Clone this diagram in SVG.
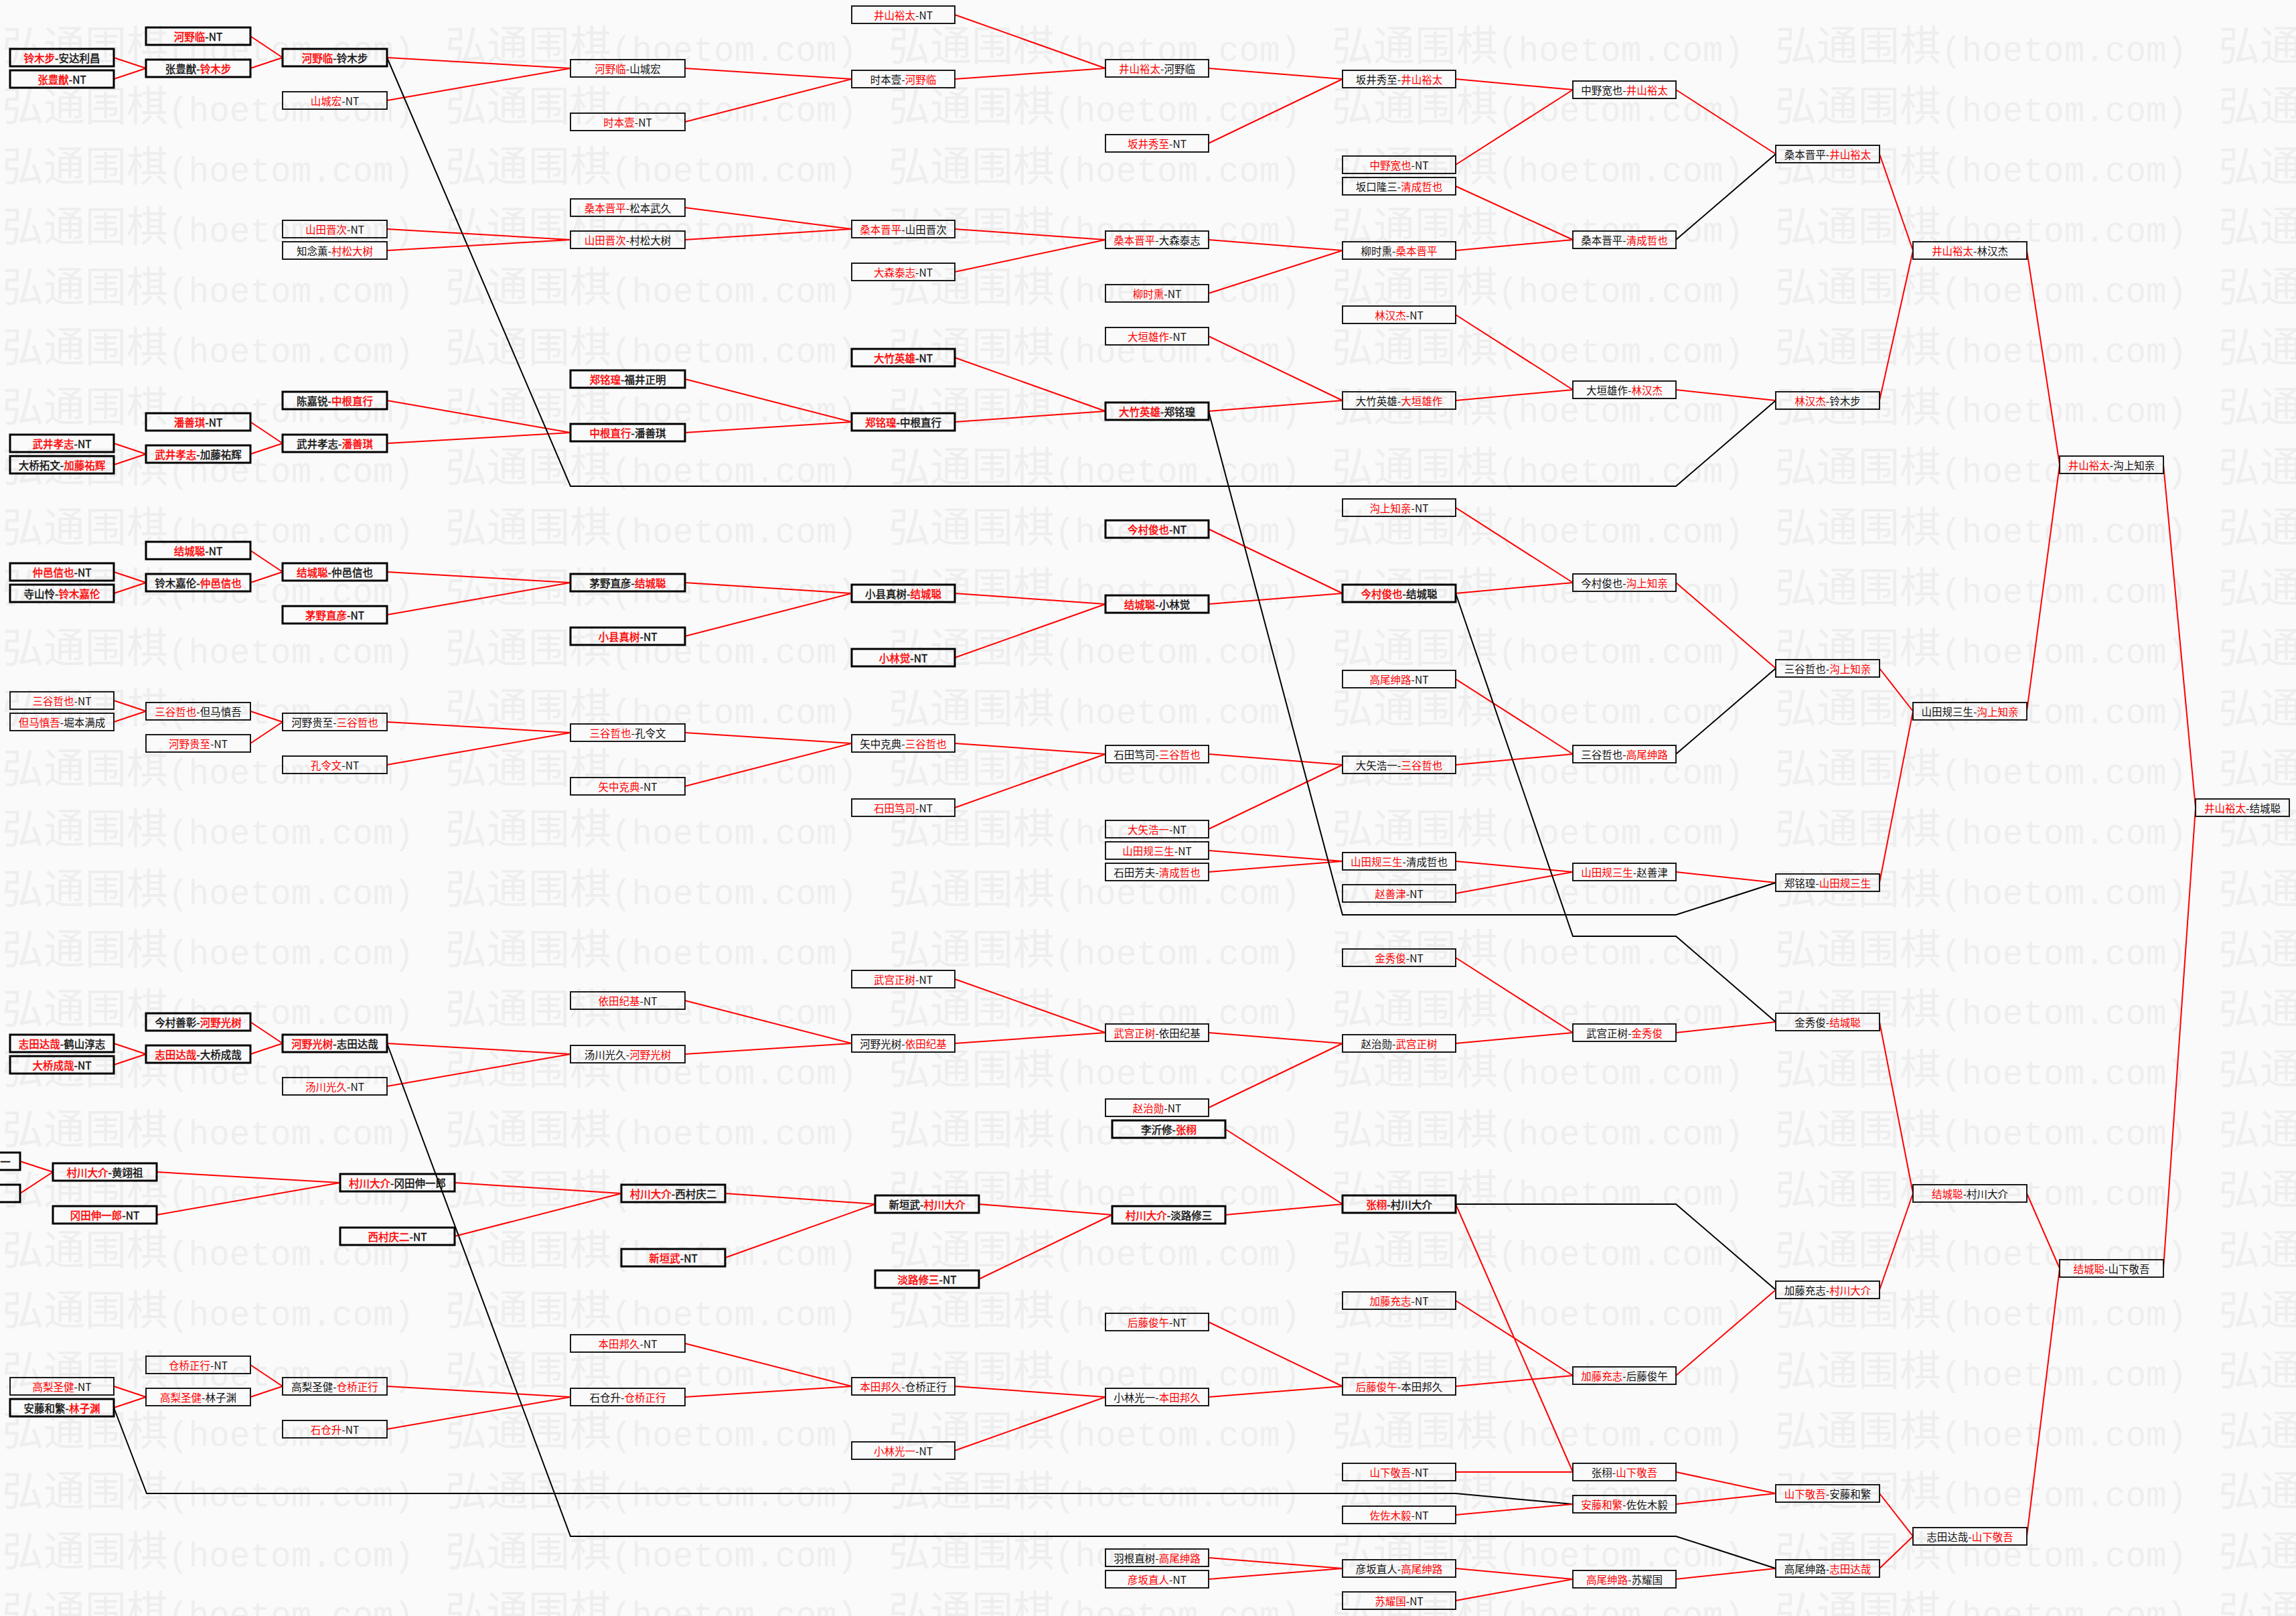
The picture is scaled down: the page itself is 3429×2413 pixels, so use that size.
<svg xmlns="http://www.w3.org/2000/svg" xmlns:xlink="http://www.w3.org/1999/xlink" width="3429" height="2413" viewBox="0 0 3429 2413">
<style>
.wm{font-family:"Noto Sans CJK SC","Noto Sans CJK JP",sans-serif;font-size:62px;fill:#eeeeee}
.wm .l{font-family:"Liberation Mono",monospace;font-size:51px}
.n rect{fill:none;stroke:#1a1a1a;stroke-width:2}
.n.b rect{stroke-width:3;stroke:#000}
.n text{font-family:"Noto Sans CJK SC","Noto Sans CJK JP",sans-serif;font-size:15.5px;fill:#111;text-anchor:middle}
.n.b text{stroke:#111;stroke-width:0.45}
.r{fill:#f00}
.n.b .r{stroke:#f00}
#edges line,#edges polyline{stroke:#f00;stroke-width:2;fill:none}
#edges .k{stroke:#000}
</style>
<defs>
<g id="wmr">
<text class="wm" x="3" y="0">弘通围棋<tspan class="l">(hoetom.com)</tspan></text>
<text class="wm" x="665" y="0">弘通围棋<tspan class="l">(hoetom.com)</tspan></text>
<text class="wm" x="1327" y="0">弘通围棋<tspan class="l">(hoetom.com)</tspan></text>
<text class="wm" x="1989" y="0">弘通围棋<tspan class="l">(hoetom.com)</tspan></text>
<text class="wm" x="2651" y="0">弘通围棋<tspan class="l">(hoetom.com)</tspan></text>
<text class="wm" x="3313" y="0">弘通围棋<tspan class="l">(hoetom.com)</tspan></text>
</g>
</defs>
<rect x="0" y="0" width="3429" height="2413" fill="#fafafa"/>
<g id="watermark">
<use href="#wmr" y="91"/><use href="#wmr" y="180.9"/><use href="#wmr" y="270.8"/><use href="#wmr" y="360.7"/><use href="#wmr" y="450.6"/><use href="#wmr" y="540.5"/><use href="#wmr" y="630.4"/><use href="#wmr" y="720.3"/><use href="#wmr" y="810.2"/><use href="#wmr" y="900.1"/><use href="#wmr" y="990"/><use href="#wmr" y="1079.9"/><use href="#wmr" y="1169.8"/><use href="#wmr" y="1259.7"/><use href="#wmr" y="1349.6"/><use href="#wmr" y="1439.5"/><use href="#wmr" y="1529.4"/><use href="#wmr" y="1619.3"/><use href="#wmr" y="1709.2"/><use href="#wmr" y="1799.1"/><use href="#wmr" y="1889"/><use href="#wmr" y="1978.9"/><use href="#wmr" y="2068.8"/><use href="#wmr" y="2158.7"/><use href="#wmr" y="2248.6"/><use href="#wmr" y="2338.5"/><use href="#wmr" y="2428.4"/>
</g>
<g id="edges">
<line x1="170" y1="86" x2="218" y2="102"/>
<line x1="170" y1="118" x2="218" y2="102"/>
<line x1="374" y1="54" x2="422" y2="86"/>
<line x1="374" y1="102" x2="422" y2="86"/>
<line x1="578" y1="86" x2="852" y2="102"/>
<line x1="578" y1="150" x2="852" y2="102"/>
<line x1="1023" y1="102" x2="1272" y2="118"/>
<line x1="1023" y1="182" x2="1272" y2="118"/>
<line x1="1426" y1="22" x2="1651" y2="102"/>
<line x1="1426" y1="118" x2="1651" y2="102"/>
<line x1="1805" y1="102" x2="2005" y2="118"/>
<line x1="1805" y1="214" x2="2005" y2="118"/>
<line x1="2174" y1="118" x2="2349" y2="134"/>
<line x1="2174" y1="246" x2="2349" y2="134"/>
<line x1="2503" y1="134" x2="2652" y2="230"/>
<line class="k" x1="2503" y1="358" x2="2652" y2="230"/>
<line x1="578" y1="342" x2="852" y2="358"/>
<line x1="578" y1="374" x2="852" y2="358"/>
<line x1="1023" y1="310" x2="1272" y2="342"/>
<line x1="1023" y1="358" x2="1272" y2="342"/>
<line x1="1426" y1="342" x2="1651" y2="358"/>
<line x1="1426" y1="406" x2="1651" y2="358"/>
<line x1="1805" y1="358" x2="2005" y2="374"/>
<line x1="1805" y1="438" x2="2005" y2="374"/>
<line x1="2174" y1="278" x2="2349" y2="358"/>
<line x1="2174" y1="374" x2="2349" y2="358"/>
<line x1="578" y1="598" x2="852" y2="646"/>
<line x1="578" y1="662" x2="852" y2="646"/>
<line x1="374" y1="630" x2="422" y2="662"/>
<line x1="374" y1="678" x2="422" y2="662"/>
<line x1="170" y1="662" x2="218" y2="678"/>
<line x1="170" y1="694" x2="218" y2="678"/>
<line x1="1023" y1="566" x2="1272" y2="630"/>
<line x1="1023" y1="646" x2="1272" y2="630"/>
<line x1="1426" y1="534" x2="1651" y2="614"/>
<line x1="1426" y1="630" x2="1651" y2="614"/>
<line x1="1805" y1="502" x2="2005" y2="598"/>
<line x1="1805" y1="614" x2="2005" y2="598"/>
<line x1="2174" y1="470" x2="2349" y2="582"/>
<line x1="2174" y1="598" x2="2349" y2="582"/>
<line x1="2503" y1="582" x2="2652" y2="598"/>
<polyline class="k" points="578,86 852,726 2503,726 2652,598"/>
<line x1="2807" y1="230" x2="2857" y2="374"/>
<line x1="2807" y1="598" x2="2857" y2="374"/>
<line x1="3027" y1="374" x2="3076" y2="694"/>
<line x1="3027" y1="1062" x2="3076" y2="694"/>
<line x1="3231" y1="694" x2="3279" y2="1206"/>
<line x1="3231" y1="1894" x2="3279" y2="1206"/>
<line x1="170" y1="854" x2="218" y2="870"/>
<line x1="170" y1="886" x2="218" y2="870"/>
<line x1="374" y1="822" x2="422" y2="854"/>
<line x1="374" y1="870" x2="422" y2="854"/>
<line x1="578" y1="854" x2="852" y2="870"/>
<line x1="578" y1="918" x2="852" y2="870"/>
<line x1="1023" y1="870" x2="1272" y2="886"/>
<line x1="1023" y1="950" x2="1272" y2="886"/>
<line x1="1426" y1="886" x2="1651" y2="902"/>
<line x1="1426" y1="982" x2="1651" y2="902"/>
<line x1="1805" y1="790" x2="2005" y2="886"/>
<line x1="1805" y1="902" x2="2005" y2="886"/>
<line x1="2174" y1="758" x2="2349" y2="870"/>
<line x1="2174" y1="886" x2="2349" y2="870"/>
<line x1="2503" y1="870" x2="2652" y2="998"/>
<line class="k" x1="2503" y1="1126" x2="2652" y2="998"/>
<line x1="170" y1="1046" x2="218" y2="1062"/>
<line x1="170" y1="1078" x2="218" y2="1062"/>
<line x1="374" y1="1062" x2="422" y2="1078"/>
<line x1="374" y1="1110" x2="422" y2="1078"/>
<line x1="578" y1="1078" x2="852" y2="1094"/>
<line x1="578" y1="1142" x2="852" y2="1094"/>
<line x1="1023" y1="1094" x2="1272" y2="1110"/>
<line x1="1023" y1="1174" x2="1272" y2="1110"/>
<line x1="1426" y1="1110" x2="1651" y2="1126"/>
<line x1="1426" y1="1206" x2="1651" y2="1126"/>
<line x1="1805" y1="1126" x2="2005" y2="1142"/>
<line x1="1805" y1="1238" x2="2005" y2="1142"/>
<line x1="2174" y1="1014" x2="2349" y2="1126"/>
<line x1="2174" y1="1142" x2="2349" y2="1126"/>
<line x1="1805" y1="1270" x2="2005" y2="1286"/>
<line x1="1805" y1="1302" x2="2005" y2="1286"/>
<line x1="2174" y1="1286" x2="2349" y2="1302"/>
<line x1="2174" y1="1334" x2="2349" y2="1302"/>
<line x1="2503" y1="1302" x2="2652" y2="1318"/>
<polyline class="k" points="1805,614 2005,1366 2503,1366 2652,1318"/>
<line x1="2807" y1="998" x2="2857" y2="1062"/>
<line x1="2807" y1="1318" x2="2857" y2="1062"/>
<line x1="170" y1="1558" x2="218" y2="1574"/>
<line x1="170" y1="1590" x2="218" y2="1574"/>
<line x1="374" y1="1526" x2="422" y2="1558"/>
<line x1="374" y1="1574" x2="422" y2="1558"/>
<line x1="578" y1="1558" x2="852" y2="1574"/>
<line x1="578" y1="1622" x2="852" y2="1574"/>
<line x1="1023" y1="1494" x2="1272" y2="1558"/>
<line x1="1023" y1="1574" x2="1272" y2="1558"/>
<line x1="1426" y1="1462" x2="1651" y2="1542"/>
<line x1="1426" y1="1558" x2="1651" y2="1542"/>
<line x1="1805" y1="1542" x2="2005" y2="1558"/>
<line x1="1805" y1="1654" x2="2005" y2="1558"/>
<line x1="2174" y1="1430" x2="2349" y2="1542"/>
<line x1="2174" y1="1558" x2="2349" y2="1542"/>
<line x1="2503" y1="1542" x2="2652" y2="1526"/>
<polyline class="k" points="2174,886 2349,1398 2503,1398 2652,1526"/>
<line x1="2807" y1="1526" x2="2857" y2="1782"/>
<line x1="2807" y1="1926" x2="2857" y2="1782"/>
<line x1="3027" y1="1782" x2="3076" y2="1894"/>
<line x1="3027" y1="2294" x2="3076" y2="1894"/>
<line x1="30" y1="1734" x2="79" y2="1750"/>
<line x1="30" y1="1782" x2="79" y2="1750"/>
<line x1="234" y1="1750" x2="508" y2="1766"/>
<line x1="234" y1="1814" x2="508" y2="1766"/>
<line x1="679" y1="1766" x2="928" y2="1782"/>
<line x1="679" y1="1846" x2="928" y2="1782"/>
<line x1="1083" y1="1782" x2="1307" y2="1798"/>
<line x1="1083" y1="1878" x2="1307" y2="1798"/>
<line x1="1462" y1="1798" x2="1661" y2="1814"/>
<line x1="1462" y1="1910" x2="1661" y2="1814"/>
<line x1="1830" y1="1686" x2="2005" y2="1798"/>
<line x1="1830" y1="1814" x2="2005" y2="1798"/>
<polyline class="k" points="2174,1798 2503,1798 2652,1926"/>
<line x1="2174" y1="1798" x2="2349" y2="2198"/>
<line x1="2174" y1="2198" x2="2349" y2="2198"/>
<line x1="2174" y1="1942" x2="2349" y2="2054"/>
<line x1="2174" y1="2070" x2="2349" y2="2054"/>
<line x1="2503" y1="2054" x2="2652" y2="1926"/>
<line x1="1805" y1="1974" x2="2005" y2="2070"/>
<line x1="1805" y1="2086" x2="2005" y2="2070"/>
<line x1="1426" y1="2070" x2="1651" y2="2086"/>
<line x1="1426" y1="2166" x2="1651" y2="2086"/>
<line x1="1023" y1="2006" x2="1272" y2="2070"/>
<line x1="1023" y1="2086" x2="1272" y2="2070"/>
<line x1="578" y1="2070" x2="852" y2="2086"/>
<line x1="578" y1="2134" x2="852" y2="2086"/>
<line x1="374" y1="2038" x2="422" y2="2070"/>
<line x1="374" y1="2086" x2="422" y2="2070"/>
<line x1="170" y1="2070" x2="218" y2="2086"/>
<line x1="170" y1="2102" x2="218" y2="2086"/>
<polyline class="k" points="170,2102 219,2230 2174,2230 2349,2246"/>
<line x1="2174" y1="2262" x2="2349" y2="2246"/>
<line x1="2503" y1="2198" x2="2652" y2="2230"/>
<line x1="2503" y1="2246" x2="2652" y2="2230"/>
<line x1="1805" y1="2326" x2="2005" y2="2342"/>
<line x1="1805" y1="2358" x2="2005" y2="2342"/>
<line x1="2174" y1="2342" x2="2349" y2="2358"/>
<line x1="2174" y1="2390" x2="2349" y2="2358"/>
<line x1="2503" y1="2358" x2="2652" y2="2342"/>
<polyline class="k" points="578,1558 852,2294 2503,2294 2652,2342"/>
<line x1="2807" y1="2230" x2="2857" y2="2294"/>
<line x1="2807" y1="2342" x2="2857" y2="2294"/>
</g>
<g id="nodes">
<g id="a0_4" class="n b"><rect x="15" y="73" width="155" height="26"/><text x="92.5" y="92.5"><tspan class="r">铃木步</tspan>-安达利昌</text></g>
<g id="a0_6" class="n b"><rect x="15" y="105" width="155" height="26"/><text x="92.5" y="124.5"><tspan class="r">张豊猷</tspan>-NT</text></g>
<g id="a0_40" class="n b"><rect x="15" y="649" width="155" height="26"/><text x="92.5" y="668.5"><tspan class="r">武井孝志</tspan>-NT</text></g>
<g id="a0_42" class="n b"><rect x="15" y="681" width="155" height="26"/><text x="92.5" y="700.5">大桥拓文-<tspan class="r">加藤祐辉</tspan></text></g>
<g id="a0_52" class="n b"><rect x="15" y="841" width="155" height="26"/><text x="92.5" y="860.5"><tspan class="r">仲邑信也</tspan>-NT</text></g>
<g id="a0_54" class="n b"><rect x="15" y="873" width="155" height="26"/><text x="92.5" y="892.5">寺山怜-<tspan class="r">铃木嘉伦</tspan></text></g>
<g id="a0_64" class="n"><rect x="15" y="1033" width="155" height="26"/><text x="92.5" y="1052.5"><tspan class="r">三谷哲也</tspan>-NT</text></g>
<g id="a0_66" class="n"><rect x="15" y="1065" width="155" height="26"/><text x="92.5" y="1084.5"><tspan class="r">但马慎吾</tspan>-堀本满成</text></g>
<g id="a0_96" class="n b"><rect x="15" y="1545" width="155" height="26"/><text x="92.5" y="1564.5"><tspan class="r">志田达哉</tspan>-鹤山淳志</text></g>
<g id="a0_98" class="n b"><rect x="15" y="1577" width="155" height="26"/><text x="92.5" y="1596.5"><tspan class="r">大桥成哉</tspan>-NT</text></g>
<g id="a0_128" class="n"><rect x="15" y="2057" width="155" height="26"/><text x="92.5" y="2076.5"><tspan class="r">高梨圣健</tspan>-NT</text></g>
<g id="a0_130" class="n b"><rect x="15" y="2089" width="155" height="26"/><text x="92.5" y="2108.5">安藤和繁-<tspan class="r">林子渊</tspan></text></g>
<g id="a1_2" class="n b"><rect x="218" y="41" width="156" height="26"/><text x="296" y="60.5"><tspan class="r">河野临</tspan>-NT</text></g>
<g id="a1_5" class="n b"><rect x="218" y="89" width="156" height="26"/><text x="296" y="108.5">张豊猷-<tspan class="r">铃木步</tspan></text></g>
<g id="a1_38" class="n b"><rect x="218" y="617" width="156" height="26"/><text x="296" y="636.5"><tspan class="r">潘善琪</tspan>-NT</text></g>
<g id="a1_41" class="n b"><rect x="218" y="665" width="156" height="26"/><text x="296" y="684.5"><tspan class="r">武井孝志</tspan>-加藤祐辉</text></g>
<g id="a1_50" class="n b"><rect x="218" y="809" width="156" height="26"/><text x="296" y="828.5"><tspan class="r">结城聪</tspan>-NT</text></g>
<g id="a1_53" class="n b"><rect x="218" y="857" width="156" height="26"/><text x="296" y="876.5">铃木嘉伦-<tspan class="r">仲邑信也</tspan></text></g>
<g id="a1_65" class="n"><rect x="218" y="1049" width="156" height="26"/><text x="296" y="1068.5"><tspan class="r">三谷哲也</tspan>-但马慎吾</text></g>
<g id="a1_68" class="n"><rect x="218" y="1097" width="156" height="26"/><text x="296" y="1116.5"><tspan class="r">河野贵至</tspan>-NT</text></g>
<g id="a1_94" class="n b"><rect x="218" y="1513" width="156" height="26"/><text x="296" y="1532.5">今村善彰-<tspan class="r">河野光树</tspan></text></g>
<g id="a1_97" class="n b"><rect x="218" y="1561" width="156" height="26"/><text x="296" y="1580.5"><tspan class="r">志田达哉</tspan>-大桥成哉</text></g>
<g id="a1_126" class="n"><rect x="218" y="2025" width="156" height="26"/><text x="296" y="2044.5"><tspan class="r">仓桥正行</tspan>-NT</text></g>
<g id="a1_129" class="n"><rect x="218" y="2073" width="156" height="26"/><text x="296" y="2092.5"><tspan class="r">高梨圣健</tspan>-林子渊</text></g>
<g id="a2_4" class="n b"><rect x="422" y="73" width="156" height="26"/><text x="500" y="92.5"><tspan class="r">河野临</tspan>-铃木步</text></g>
<g id="a2_8" class="n"><rect x="422" y="137" width="156" height="26"/><text x="500" y="156.5"><tspan class="r">山城宏</tspan>-NT</text></g>
<g id="a2_20" class="n"><rect x="422" y="329" width="156" height="26"/><text x="500" y="348.5"><tspan class="r">山田晋次</tspan>-NT</text></g>
<g id="a2_22" class="n"><rect x="422" y="361" width="156" height="26"/><text x="500" y="380.5">知念薫-<tspan class="r">村松大树</tspan></text></g>
<g id="a2_36" class="n b"><rect x="422" y="585" width="156" height="26"/><text x="500" y="604.5">陈嘉锐-<tspan class="r">中根直行</tspan></text></g>
<g id="a2_40" class="n b"><rect x="422" y="649" width="156" height="26"/><text x="500" y="668.5">武井孝志-<tspan class="r">潘善琪</tspan></text></g>
<g id="a2_52" class="n b"><rect x="422" y="841" width="156" height="26"/><text x="500" y="860.5"><tspan class="r">结城聪</tspan>-仲邑信也</text></g>
<g id="a2_56" class="n b"><rect x="422" y="905" width="156" height="26"/><text x="500" y="924.5"><tspan class="r">茅野直彦</tspan>-NT</text></g>
<g id="a2_66" class="n"><rect x="422" y="1065" width="156" height="26"/><text x="500" y="1084.5">河野贵至-<tspan class="r">三谷哲也</tspan></text></g>
<g id="a2_70" class="n"><rect x="422" y="1129" width="156" height="26"/><text x="500" y="1148.5"><tspan class="r">孔令文</tspan>-NT</text></g>
<g id="a2_96" class="n b"><rect x="422" y="1545" width="156" height="26"/><text x="500" y="1564.5"><tspan class="r">河野光树</tspan>-志田达哉</text></g>
<g id="a2_100" class="n"><rect x="422" y="1609" width="156" height="26"/><text x="500" y="1628.5"><tspan class="r">汤川光久</tspan>-NT</text></g>
<g id="a2_128" class="n"><rect x="422" y="2057" width="156" height="26"/><text x="500" y="2076.5">高梨圣健-<tspan class="r">仓桥正行</tspan></text></g>
<g id="a2_132" class="n"><rect x="422" y="2121" width="156" height="26"/><text x="500" y="2140.5"><tspan class="r">石仓升</tspan>-NT</text></g>
<g id="a3_5" class="n"><rect x="852" y="89" width="171" height="26"/><text x="937.5" y="108.5"><tspan class="r">河野临</tspan>-山城宏</text></g>
<g id="a3_10" class="n"><rect x="852" y="169" width="171" height="26"/><text x="937.5" y="188.5"><tspan class="r">时本壹</tspan>-NT</text></g>
<g id="a3_18" class="n"><rect x="852" y="297" width="171" height="26"/><text x="937.5" y="316.5"><tspan class="r">桑本晋平</tspan>-松本武久</text></g>
<g id="a3_21" class="n"><rect x="852" y="345" width="171" height="26"/><text x="937.5" y="364.5"><tspan class="r">山田晋次</tspan>-村松大树</text></g>
<g id="a3_34" class="n b"><rect x="852" y="553" width="171" height="26"/><text x="937.5" y="572.5"><tspan class="r">郑铭瑝</tspan>-福井正明</text></g>
<g id="a3_39" class="n b"><rect x="852" y="633" width="171" height="26"/><text x="937.5" y="652.5"><tspan class="r">中根直行</tspan>-潘善琪</text></g>
<g id="a3_53" class="n b"><rect x="852" y="857" width="171" height="26"/><text x="937.5" y="876.5">茅野直彦-<tspan class="r">结城聪</tspan></text></g>
<g id="a3_58" class="n b"><rect x="852" y="937" width="171" height="26"/><text x="937.5" y="956.5"><tspan class="r">小县真树</tspan>-NT</text></g>
<g id="a3_67" class="n"><rect x="852" y="1081" width="171" height="26"/><text x="937.5" y="1100.5"><tspan class="r">三谷哲也</tspan>-孔令文</text></g>
<g id="a3_72" class="n"><rect x="852" y="1161" width="171" height="26"/><text x="937.5" y="1180.5"><tspan class="r">矢中克典</tspan>-NT</text></g>
<g id="a3_92" class="n"><rect x="852" y="1481" width="171" height="26"/><text x="937.5" y="1500.5"><tspan class="r">依田纪基</tspan>-NT</text></g>
<g id="a3_97" class="n"><rect x="852" y="1561" width="171" height="26"/><text x="937.5" y="1580.5">汤川光久-<tspan class="r">河野光树</tspan></text></g>
<g id="a3_124" class="n"><rect x="852" y="1993" width="171" height="26"/><text x="937.5" y="2012.5"><tspan class="r">本田邦久</tspan>-NT</text></g>
<g id="a3_129" class="n"><rect x="852" y="2073" width="171" height="26"/><text x="937.5" y="2092.5">石仓升-<tspan class="r">仓桥正行</tspan></text></g>
<g id="a4_0" class="n"><rect x="1272" y="9" width="154" height="26"/><text x="1349" y="28.5"><tspan class="r">井山裕太</tspan>-NT</text></g>
<g id="a4_6" class="n"><rect x="1272" y="105" width="154" height="26"/><text x="1349" y="124.5">时本壹-<tspan class="r">河野临</tspan></text></g>
<g id="a4_20" class="n"><rect x="1272" y="329" width="154" height="26"/><text x="1349" y="348.5"><tspan class="r">桑本晋平</tspan>-山田晋次</text></g>
<g id="a4_24" class="n"><rect x="1272" y="393" width="154" height="26"/><text x="1349" y="412.5"><tspan class="r">大森泰志</tspan>-NT</text></g>
<g id="a4_32" class="n b"><rect x="1272" y="521" width="154" height="26"/><text x="1349" y="540.5"><tspan class="r">大竹英雄</tspan>-NT</text></g>
<g id="a4_38" class="n b"><rect x="1272" y="617" width="154" height="26"/><text x="1349" y="636.5"><tspan class="r">郑铭瑝</tspan>-中根直行</text></g>
<g id="a4_54" class="n b"><rect x="1272" y="873" width="154" height="26"/><text x="1349" y="892.5">小县真树-<tspan class="r">结城聪</tspan></text></g>
<g id="a4_60" class="n b"><rect x="1272" y="969" width="154" height="26"/><text x="1349" y="988.5"><tspan class="r">小林觉</tspan>-NT</text></g>
<g id="a4_68" class="n"><rect x="1272" y="1097" width="154" height="26"/><text x="1349" y="1116.5">矢中克典-<tspan class="r">三谷哲也</tspan></text></g>
<g id="a4_74" class="n"><rect x="1272" y="1193" width="154" height="26"/><text x="1349" y="1212.5"><tspan class="r">石田笃司</tspan>-NT</text></g>
<g id="a4_90" class="n"><rect x="1272" y="1449" width="154" height="26"/><text x="1349" y="1468.5"><tspan class="r">武宫正树</tspan>-NT</text></g>
<g id="a4_96" class="n"><rect x="1272" y="1545" width="154" height="26"/><text x="1349" y="1564.5">河野光树-<tspan class="r">依田纪基</tspan></text></g>
<g id="a4_128" class="n"><rect x="1272" y="2057" width="154" height="26"/><text x="1349" y="2076.5"><tspan class="r">本田邦久</tspan>-仓桥正行</text></g>
<g id="a4_134" class="n"><rect x="1272" y="2153" width="154" height="26"/><text x="1349" y="2172.5"><tspan class="r">小林光一</tspan>-NT</text></g>
<g id="a5_5" class="n"><rect x="1651" y="89" width="154" height="26"/><text x="1728" y="108.5"><tspan class="r">井山裕太</tspan>-河野临</text></g>
<g id="a5_12" class="n"><rect x="1651" y="201" width="154" height="26"/><text x="1728" y="220.5"><tspan class="r">坂井秀至</tspan>-NT</text></g>
<g id="a5_21" class="n"><rect x="1651" y="345" width="154" height="26"/><text x="1728" y="364.5"><tspan class="r">桑本晋平</tspan>-大森泰志</text></g>
<g id="a5_26" class="n"><rect x="1651" y="425" width="154" height="26"/><text x="1728" y="444.5"><tspan class="r">柳时熏</tspan>-NT</text></g>
<g id="a5_30" class="n"><rect x="1651" y="489" width="154" height="26"/><text x="1728" y="508.5"><tspan class="r">大垣雄作</tspan>-NT</text></g>
<g id="a5_37" class="n b"><rect x="1651" y="601" width="154" height="26"/><text x="1728" y="620.5"><tspan class="r">大竹英雄</tspan>-郑铭瑝</text></g>
<g id="a5_48" class="n b"><rect x="1651" y="777" width="154" height="26"/><text x="1728" y="796.5"><tspan class="r">今村俊也</tspan>-NT</text></g>
<g id="a5_55" class="n b"><rect x="1651" y="889" width="154" height="26"/><text x="1728" y="908.5"><tspan class="r">结城聪</tspan>-小林觉</text></g>
<g id="a5_69" class="n"><rect x="1651" y="1113" width="154" height="26"/><text x="1728" y="1132.5">石田笃司-<tspan class="r">三谷哲也</tspan></text></g>
<g id="a5_76" class="n"><rect x="1651" y="1225" width="154" height="26"/><text x="1728" y="1244.5"><tspan class="r">大矢浩一</tspan>-NT</text></g>
<g id="a5_78" class="n"><rect x="1651" y="1257" width="154" height="26"/><text x="1728" y="1276.5"><tspan class="r">山田规三生</tspan>-NT</text></g>
<g id="a5_80" class="n"><rect x="1651" y="1289" width="154" height="26"/><text x="1728" y="1308.5">石田芳夫-<tspan class="r">清成哲也</tspan></text></g>
<g id="a5_95" class="n"><rect x="1651" y="1529" width="154" height="26"/><text x="1728" y="1548.5"><tspan class="r">武宫正树</tspan>-依田纪基</text></g>
<g id="a5_102" class="n"><rect x="1651" y="1641" width="154" height="26"/><text x="1728" y="1660.5"><tspan class="r">赵治勋</tspan>-NT</text></g>
<g id="a5_122" class="n"><rect x="1651" y="1961" width="154" height="26"/><text x="1728" y="1980.5"><tspan class="r">后藤俊午</tspan>-NT</text></g>
<g id="a5_129" class="n"><rect x="1651" y="2073" width="154" height="26"/><text x="1728" y="2092.5">小林光一-<tspan class="r">本田邦久</tspan></text></g>
<g id="a5_144" class="n"><rect x="1651" y="2313" width="154" height="26"/><text x="1728" y="2332.5">羽根直树-<tspan class="r">高尾绅路</tspan></text></g>
<g id="a5_146" class="n"><rect x="1651" y="2345" width="154" height="26"/><text x="1728" y="2364.5"><tspan class="r">彦坂直人</tspan>-NT</text></g>
<g id="a6_6" class="n"><rect x="2005" y="105" width="169" height="26"/><text x="2089.5" y="124.5">坂井秀至-<tspan class="r">井山裕太</tspan></text></g>
<g id="a6_14" class="n"><rect x="2005" y="233" width="169" height="26"/><text x="2089.5" y="252.5"><tspan class="r">中野宽也</tspan>-NT</text></g>
<g id="a6_16" class="n"><rect x="2005" y="265" width="169" height="26"/><text x="2089.5" y="284.5">坂口隆三-<tspan class="r">清成哲也</tspan></text></g>
<g id="a6_22" class="n"><rect x="2005" y="361" width="169" height="26"/><text x="2089.5" y="380.5">柳时熏-<tspan class="r">桑本晋平</tspan></text></g>
<g id="a6_28" class="n"><rect x="2005" y="457" width="169" height="26"/><text x="2089.5" y="476.5"><tspan class="r">林汉杰</tspan>-NT</text></g>
<g id="a6_36" class="n"><rect x="2005" y="585" width="169" height="26"/><text x="2089.5" y="604.5">大竹英雄-<tspan class="r">大垣雄作</tspan></text></g>
<g id="a6_46" class="n"><rect x="2005" y="745" width="169" height="26"/><text x="2089.5" y="764.5"><tspan class="r">沟上知亲</tspan>-NT</text></g>
<g id="a6_54" class="n b"><rect x="2005" y="873" width="169" height="26"/><text x="2089.5" y="892.5"><tspan class="r">今村俊也</tspan>-结城聪</text></g>
<g id="a6_62" class="n"><rect x="2005" y="1001" width="169" height="26"/><text x="2089.5" y="1020.5"><tspan class="r">高尾绅路</tspan>-NT</text></g>
<g id="a6_70" class="n"><rect x="2005" y="1129" width="169" height="26"/><text x="2089.5" y="1148.5">大矢浩一-<tspan class="r">三谷哲也</tspan></text></g>
<g id="a6_79" class="n"><rect x="2005" y="1273" width="169" height="26"/><text x="2089.5" y="1292.5"><tspan class="r">山田规三生</tspan>-清成哲也</text></g>
<g id="a6_82" class="n"><rect x="2005" y="1321" width="169" height="26"/><text x="2089.5" y="1340.5"><tspan class="r">赵善津</tspan>-NT</text></g>
<g id="a6_88" class="n"><rect x="2005" y="1417" width="169" height="26"/><text x="2089.5" y="1436.5"><tspan class="r">金秀俊</tspan>-NT</text></g>
<g id="a6_96" class="n"><rect x="2005" y="1545" width="169" height="26"/><text x="2089.5" y="1564.5">赵治勋-<tspan class="r">武宫正树</tspan></text></g>
<g id="a6_111" class="n b"><rect x="2005" y="1785" width="169" height="26"/><text x="2089.5" y="1804.5"><tspan class="r">张栩</tspan>-村川大介</text></g>
<g id="a6_120" class="n"><rect x="2005" y="1929" width="169" height="26"/><text x="2089.5" y="1948.5"><tspan class="r">加藤充志</tspan>-NT</text></g>
<g id="a6_128" class="n"><rect x="2005" y="2057" width="169" height="26"/><text x="2089.5" y="2076.5"><tspan class="r">后藤俊午</tspan>-本田邦久</text></g>
<g id="a6_136" class="n"><rect x="2005" y="2185" width="169" height="26"/><text x="2089.5" y="2204.5"><tspan class="r">山下敬吾</tspan>-NT</text></g>
<g id="a6_140" class="n"><rect x="2005" y="2249" width="169" height="26"/><text x="2089.5" y="2268.5"><tspan class="r">佐佐木毅</tspan>-NT</text></g>
<g id="a6_145" class="n"><rect x="2005" y="2329" width="169" height="26"/><text x="2089.5" y="2348.5">彦坂直人-<tspan class="r">高尾绅路</tspan></text></g>
<g id="a6_148" class="n"><rect x="2005" y="2377" width="169" height="26"/><text x="2089.5" y="2396.5"><tspan class="r">苏耀国</tspan>-NT</text></g>
<g id="a7_7" class="n"><rect x="2349" y="121" width="154" height="26"/><text x="2426" y="140.5">中野宽也-<tspan class="r">井山裕太</tspan></text></g>
<g id="a7_21" class="n"><rect x="2349" y="345" width="154" height="26"/><text x="2426" y="364.5">桑本晋平-<tspan class="r">清成哲也</tspan></text></g>
<g id="a7_35" class="n"><rect x="2349" y="569" width="154" height="26"/><text x="2426" y="588.5">大垣雄作-<tspan class="r">林汉杰</tspan></text></g>
<g id="a7_53" class="n"><rect x="2349" y="857" width="154" height="26"/><text x="2426" y="876.5">今村俊也-<tspan class="r">沟上知亲</tspan></text></g>
<g id="a7_69" class="n"><rect x="2349" y="1113" width="154" height="26"/><text x="2426" y="1132.5">三谷哲也-<tspan class="r">高尾绅路</tspan></text></g>
<g id="a7_80" class="n"><rect x="2349" y="1289" width="154" height="26"/><text x="2426" y="1308.5"><tspan class="r">山田规三生</tspan>-赵善津</text></g>
<g id="a7_95" class="n"><rect x="2349" y="1529" width="154" height="26"/><text x="2426" y="1548.5">武宫正树-<tspan class="r">金秀俊</tspan></text></g>
<g id="a7_127" class="n"><rect x="2349" y="2041" width="154" height="26"/><text x="2426" y="2060.5"><tspan class="r">加藤充志</tspan>-后藤俊午</text></g>
<g id="a7_136" class="n"><rect x="2349" y="2185" width="154" height="26"/><text x="2426" y="2204.5">张栩-<tspan class="r">山下敬吾</tspan></text></g>
<g id="a7_139" class="n"><rect x="2349" y="2233" width="154" height="26"/><text x="2426" y="2252.5"><tspan class="r">安藤和繁</tspan>-佐佐木毅</text></g>
<g id="a7_146" class="n"><rect x="2349" y="2345" width="154" height="26"/><text x="2426" y="2364.5"><tspan class="r">高尾绅路</tspan>-苏耀国</text></g>
<g id="a8_13" class="n"><rect x="2652" y="217" width="155" height="26"/><text x="2729.5" y="236.5">桑本晋平-<tspan class="r">井山裕太</tspan></text></g>
<g id="a8_36" class="n"><rect x="2652" y="585" width="155" height="26"/><text x="2729.5" y="604.5"><tspan class="r">林汉杰</tspan>-铃木步</text></g>
<g id="a8_61" class="n"><rect x="2652" y="985" width="155" height="26"/><text x="2729.5" y="1004.5">三谷哲也-<tspan class="r">沟上知亲</tspan></text></g>
<g id="a8_81" class="n"><rect x="2652" y="1305" width="155" height="26"/><text x="2729.5" y="1324.5">郑铭瑝-<tspan class="r">山田规三生</tspan></text></g>
<g id="a8_94" class="n"><rect x="2652" y="1513" width="155" height="26"/><text x="2729.5" y="1532.5">金秀俊-<tspan class="r">结城聪</tspan></text></g>
<g id="a8_119" class="n"><rect x="2652" y="1913" width="155" height="26"/><text x="2729.5" y="1932.5">加藤充志-<tspan class="r">村川大介</tspan></text></g>
<g id="a8_138" class="n"><rect x="2652" y="2217" width="155" height="26"/><text x="2729.5" y="2236.5"><tspan class="r">山下敬吾</tspan>-安藤和繁</text></g>
<g id="a8_145" class="n"><rect x="2652" y="2329" width="155" height="26"/><text x="2729.5" y="2348.5">高尾绅路-<tspan class="r">志田达哉</tspan></text></g>
<g id="a9_22" class="n"><rect x="2857" y="361" width="170" height="26"/><text x="2942" y="380.5"><tspan class="r">井山裕太</tspan>-林汉杰</text></g>
<g id="a9_65" class="n"><rect x="2857" y="1049" width="170" height="26"/><text x="2942" y="1068.5">山田规三生-<tspan class="r">沟上知亲</tspan></text></g>
<g id="a9_110" class="n"><rect x="2857" y="1769" width="170" height="26"/><text x="2942" y="1788.5"><tspan class="r">结城聪</tspan>-村川大介</text></g>
<g id="a9_142" class="n"><rect x="2857" y="2281" width="170" height="26"/><text x="2942" y="2300.5">志田达哉-<tspan class="r">山下敬吾</tspan></text></g>
<g id="a10_42" class="n"><rect x="3076" y="681" width="155" height="26"/><text x="3153.5" y="700.5"><tspan class="r">井山裕太</tspan>-沟上知亲</text></g>
<g id="a10_117" class="n"><rect x="3076" y="1881" width="155" height="26"/><text x="3153.5" y="1900.5"><tspan class="r">结城聪</tspan>-山下敬吾</text></g>
<g id="a11_74" class="n"><rect x="3279" y="1193" width="140" height="26"/><text x="3349" y="1212.5"><tspan class="r">井山裕太</tspan>-结城聪</text></g>
<g id="bL_107" class="n b"><rect x="-126" y="1721" width="156" height="26"/><text x="8" y="1740.5">一</text></g>
<g id="bL_110" class="n b"><rect x="-126" y="1769" width="156" height="26"/></g>
<g id="b1_108" class="n b"><rect x="79" y="1737" width="155" height="26"/><text x="156.5" y="1756.5"><tspan class="r">村川大介</tspan>-黄翊祖</text></g>
<g id="b1_112" class="n b"><rect x="79" y="1801" width="155" height="26"/><text x="156.5" y="1820.5"><tspan class="r">冈田伸一郎</tspan>-NT</text></g>
<g id="b2_109" class="n b"><rect x="508" y="1753" width="171" height="26"/><text x="593.5" y="1772.5"><tspan class="r">村川大介</tspan>-冈田伸一郎</text></g>
<g id="b2_114" class="n b"><rect x="508" y="1833" width="171" height="26"/><text x="593.5" y="1852.5"><tspan class="r">西村庆二</tspan>-NT</text></g>
<g id="b3_110" class="n b"><rect x="928" y="1769" width="155" height="26"/><text x="1005.5" y="1788.5"><tspan class="r">村川大介</tspan>-西村庆二</text></g>
<g id="b3_116" class="n b"><rect x="928" y="1865" width="155" height="26"/><text x="1005.5" y="1884.5"><tspan class="r">新垣武</tspan>-NT</text></g>
<g id="b4_111" class="n b"><rect x="1307" y="1785" width="155" height="26"/><text x="1384.5" y="1804.5">新垣武-<tspan class="r">村川大介</tspan></text></g>
<g id="b4_118" class="n b"><rect x="1307" y="1897" width="155" height="26"/><text x="1384.5" y="1916.5"><tspan class="r">淡路修三</tspan>-NT</text></g>
<g id="b5_104" class="n b"><rect x="1661" y="1673" width="169" height="26"/><text x="1745.5" y="1692.5">李沂修-<tspan class="r">张栩</tspan></text></g>
<g id="b5_112" class="n b"><rect x="1661" y="1801" width="169" height="26"/><text x="1745.5" y="1820.5"><tspan class="r">村川大介</tspan>-淡路修三</text></g>
</g>
</svg>
